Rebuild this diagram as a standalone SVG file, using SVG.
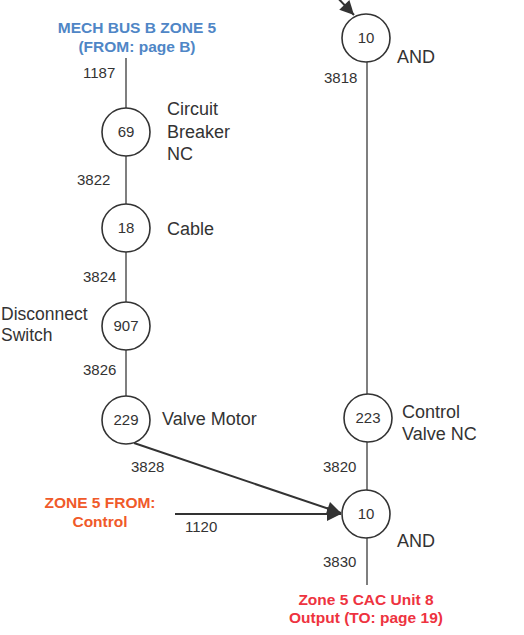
<svg xmlns="http://www.w3.org/2000/svg" width="524" height="635" viewBox="0 0 524 635">
<style>
.node circle{fill:#fff;stroke:#333;stroke-width:1.6}
.num{font-family:"Liberation Sans",Arial,sans-serif;font-size:15px;fill:#333;text-anchor:middle}
.lbl{font-family:"Liberation Sans",Arial,sans-serif;font-size:18px;fill:#333}
.wl{font-family:"Liberation Sans",Arial,sans-serif;font-size:15px;fill:#333}
.hb{font-family:"Liberation Sans",Arial,sans-serif;font-size:15.5px;font-weight:bold;fill:#4f86c6;text-anchor:middle}
.ho{font-family:"Liberation Sans",Arial,sans-serif;font-size:15.5px;font-weight:bold;fill:#f05a2a;text-anchor:middle}
.hr{font-family:"Liberation Sans",Arial,sans-serif;font-size:15.5px;font-weight:bold;fill:#ee3340;text-anchor:middle}
.wire{stroke:#555;stroke-width:1.5;fill:none}
.arr{stroke:#333;stroke-width:2;fill:none;marker-end:url(#ah)}
</style>
<defs>
<marker id="ah" viewBox="0 0 10 10" refX="10" refY="5" markerWidth="9" markerHeight="7" markerUnits="strokeWidth" orient="auto">
<path d="M0,0 L10,5 L0,10 z" fill="#333"/>
</marker>
</defs>
<rect width="524" height="635" fill="#fff"/>
<g id="connectors">
<line class="wire" x1="126" y1="58" x2="126" y2="108"/>
<line class="wire" x1="126" y1="156" x2="126" y2="204"/>
<line class="wire" x1="126" y1="252" x2="126" y2="302"/>
<line class="wire" x1="126" y1="350" x2="126" y2="396"/>
<line class="wire" x1="367" y1="62" x2="367" y2="394"/>
<line class="wire" x1="367" y1="442" x2="367" y2="490"/>
<line class="wire" x1="367" y1="538" x2="367" y2="585"/>
<line class="arr" x1="334" y1="-6" x2="354" y2="15"/>
<line class="arr" x1="134" y1="443" x2="341" y2="513"/>
<line class="arr" x1="175" y1="514" x2="341" y2="514"/>
<text class="wl" x="83" y="78">1187</text>
<text class="wl" x="77" y="185">3822</text>
<text class="wl" x="83" y="282">3824</text>
<text class="wl" x="83" y="375">3826</text>
<text class="wl" x="131" y="472">3828</text>
<text class="wl" x="324" y="83">3818</text>
<text class="wl" x="323" y="472">3820</text>
<text class="wl" x="185" y="532">1120</text>
<text class="wl" x="323" y="567">3830</text>
</g>
<g id="src-mech">
<text class="hb" x="137" y="33">MECH BUS B ZONE 5</text>
<text class="hb" x="137" y="52">(FROM: page B)</text>
</g>
<g id="n69" class="node">
<circle cx="126" cy="132" r="24"/>
<text class="num" x="126" y="137">69</text>
<text class="lbl" x="167" y="115">Circuit</text>
<text class="lbl" x="167" y="138">Breaker</text>
<text class="lbl" x="167" y="160">NC</text>
</g>
<g id="n18" class="node">
<circle cx="126" cy="228" r="24"/>
<text class="num" x="126" y="233">18</text>
<text class="lbl" x="167" y="235">Cable</text>
</g>
<g id="n907" class="node">
<circle cx="126" cy="326" r="24"/>
<text class="num" x="126" y="331">907</text>
<text class="lbl" x="1" y="320" style="font-size:17.5px">Disconnect</text>
<text class="lbl" x="1" y="341" style="font-size:17.5px">Switch</text>
</g>
<g id="n229" class="node">
<circle cx="126" cy="420" r="24"/>
<text class="num" x="126" y="425">229</text>
<text class="lbl" x="162" y="425">Valve Motor</text>
</g>
<g id="n10top" class="node">
<circle cx="366" cy="38" r="24"/>
<text class="num" x="366" y="43">10</text>
<text class="lbl" x="397" y="63">AND</text>
</g>
<g id="n223" class="node">
<circle cx="368" cy="418" r="24"/>
<text class="num" x="368" y="423">223</text>
<text class="lbl" x="402" y="418">Control</text>
<text class="lbl" x="402" y="440">Valve NC</text>
</g>
<g id="n10bot" class="node">
<circle cx="366" cy="514" r="24"/>
<text class="num" x="366" y="519">10</text>
<text class="lbl" x="397" y="547">AND</text>
</g>
<g id="src-control">
<text class="ho" x="100" y="508">ZONE 5 FROM:</text>
<text class="ho" x="100" y="527">Control</text>
</g>
<g id="out-cac">
<text class="hr" x="366" y="605">Zone 5 CAC Unit 8</text>
<text class="hr" x="366" y="623">Output (TO: page 19)</text>
</g>
</svg>
